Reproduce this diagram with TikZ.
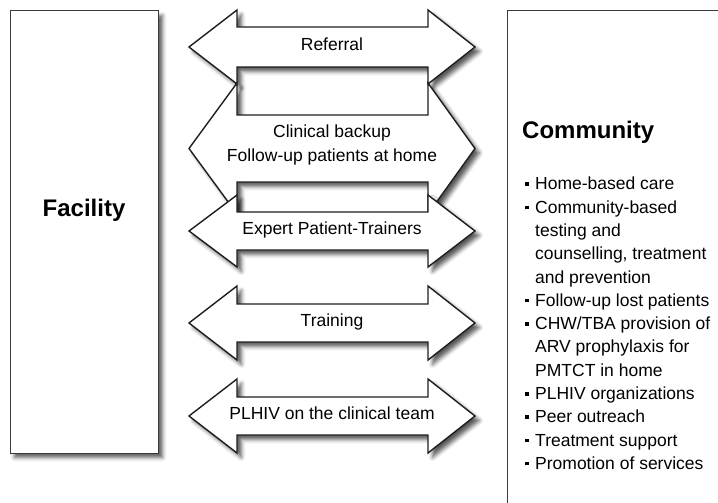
\documentclass[tikz,border=0pt]{standalone}
\usepackage{fontspec}
\setmainfont{Liberation Sans}
\usetikzlibrary{shadows.blur}
\definecolor{EdgeDark}{HTML}{1E1E1E}
\definecolor{BoxEdge}{HTML}{3A3A3A}

% two-headed arrow: centre y, half shaft, half head
\newcommand{\twoway}[3]{%
  \draw[twoarrow] (189,#1) -- (237,#1-#3) -- (237,#1-#2) -- (428,#1-#2)
    -- (428,#1-#3) -- (475,#1) -- (428,#1+#3) -- (428,#1+#2)
    -- (237,#1+#2) -- (237,#1+#3) -- cycle;}
\newcommand{\itm}{\makebox[10pt][l]{\rule[4pt]{3.5pt}{3.5pt}}}

\begin{document}
\begin{tikzpicture}[
    x=1pt, y=-1pt,
    softshadow/.style={blur shadow={shadow xshift=4.5pt, shadow yshift=-4.5pt,
        shadow blur radius=4pt, shadow opacity=65}},
    sidebox/.style={draw=BoxEdge, line width=1pt, fill=white, softshadow},
    twoarrow/.style={draw=EdgeDark, line width=1.4pt, line join=miter, fill=white, softshadow},
    lbl/.style={font=\fontsize{17.5}{23.3}\selectfont, inner sep=0pt},
    heading/.style={font=\fontsize{24}{28}\selectfont\bfseries, inner sep=0pt}
]
\useasboundingbox (0,0) rectangle (718,503);
\clip (0,0) rectangle (718,503);

% side boxes
\draw[sidebox] (10,11) rectangle (158,453);
\draw[sidebox] (507,11) rectangle (740,530);

% arrows, top to bottom
\twoway{47}{20}{37}
\twoway{148.5}{33.5}{65.5}
\twoway{231}{19}{36}
\twoway{323}{19}{37}
\twoway{416}{19}{37}

% arrow labels
\node[lbl] (referral) at (332,44) {Referral};
\node[lbl, align=center] (backup) at (332,145) {Clinical backup\\Follow-up patients at home};
\node[lbl] (experts) at (332,230) {Expert Patient-Trainers};
\node[lbl] (training) at (332,322) {Training};
\node[lbl] (plhiv) at (332,413) {PLHIV on the clinical team};

% side texts
\node[heading] (facility) at (84,210) {Facility};
\node[heading, anchor=west] (community) at (522,132) {Community};
\node[lbl, anchor=north west, align=left] (services) at (525,177) {%
  \itm Home-based care\\
  \itm Community-based\\
  \hspace*{10pt}testing and\\
  \hspace*{10pt}counselling, treatment\\
  \hspace*{10pt}and prevention\\
  \itm Follow-up lost patients\\
  \itm CHW/TBA provision of\\
  \hspace*{10pt}ARV prophylaxis for\\
  \hspace*{10pt}PMTCT in home\\
  \itm PLHIV organizations\\
  \itm Peer outreach\\
  \itm Treatment support\\
  \itm Promotion of services};
\end{tikzpicture}
\end{document}
